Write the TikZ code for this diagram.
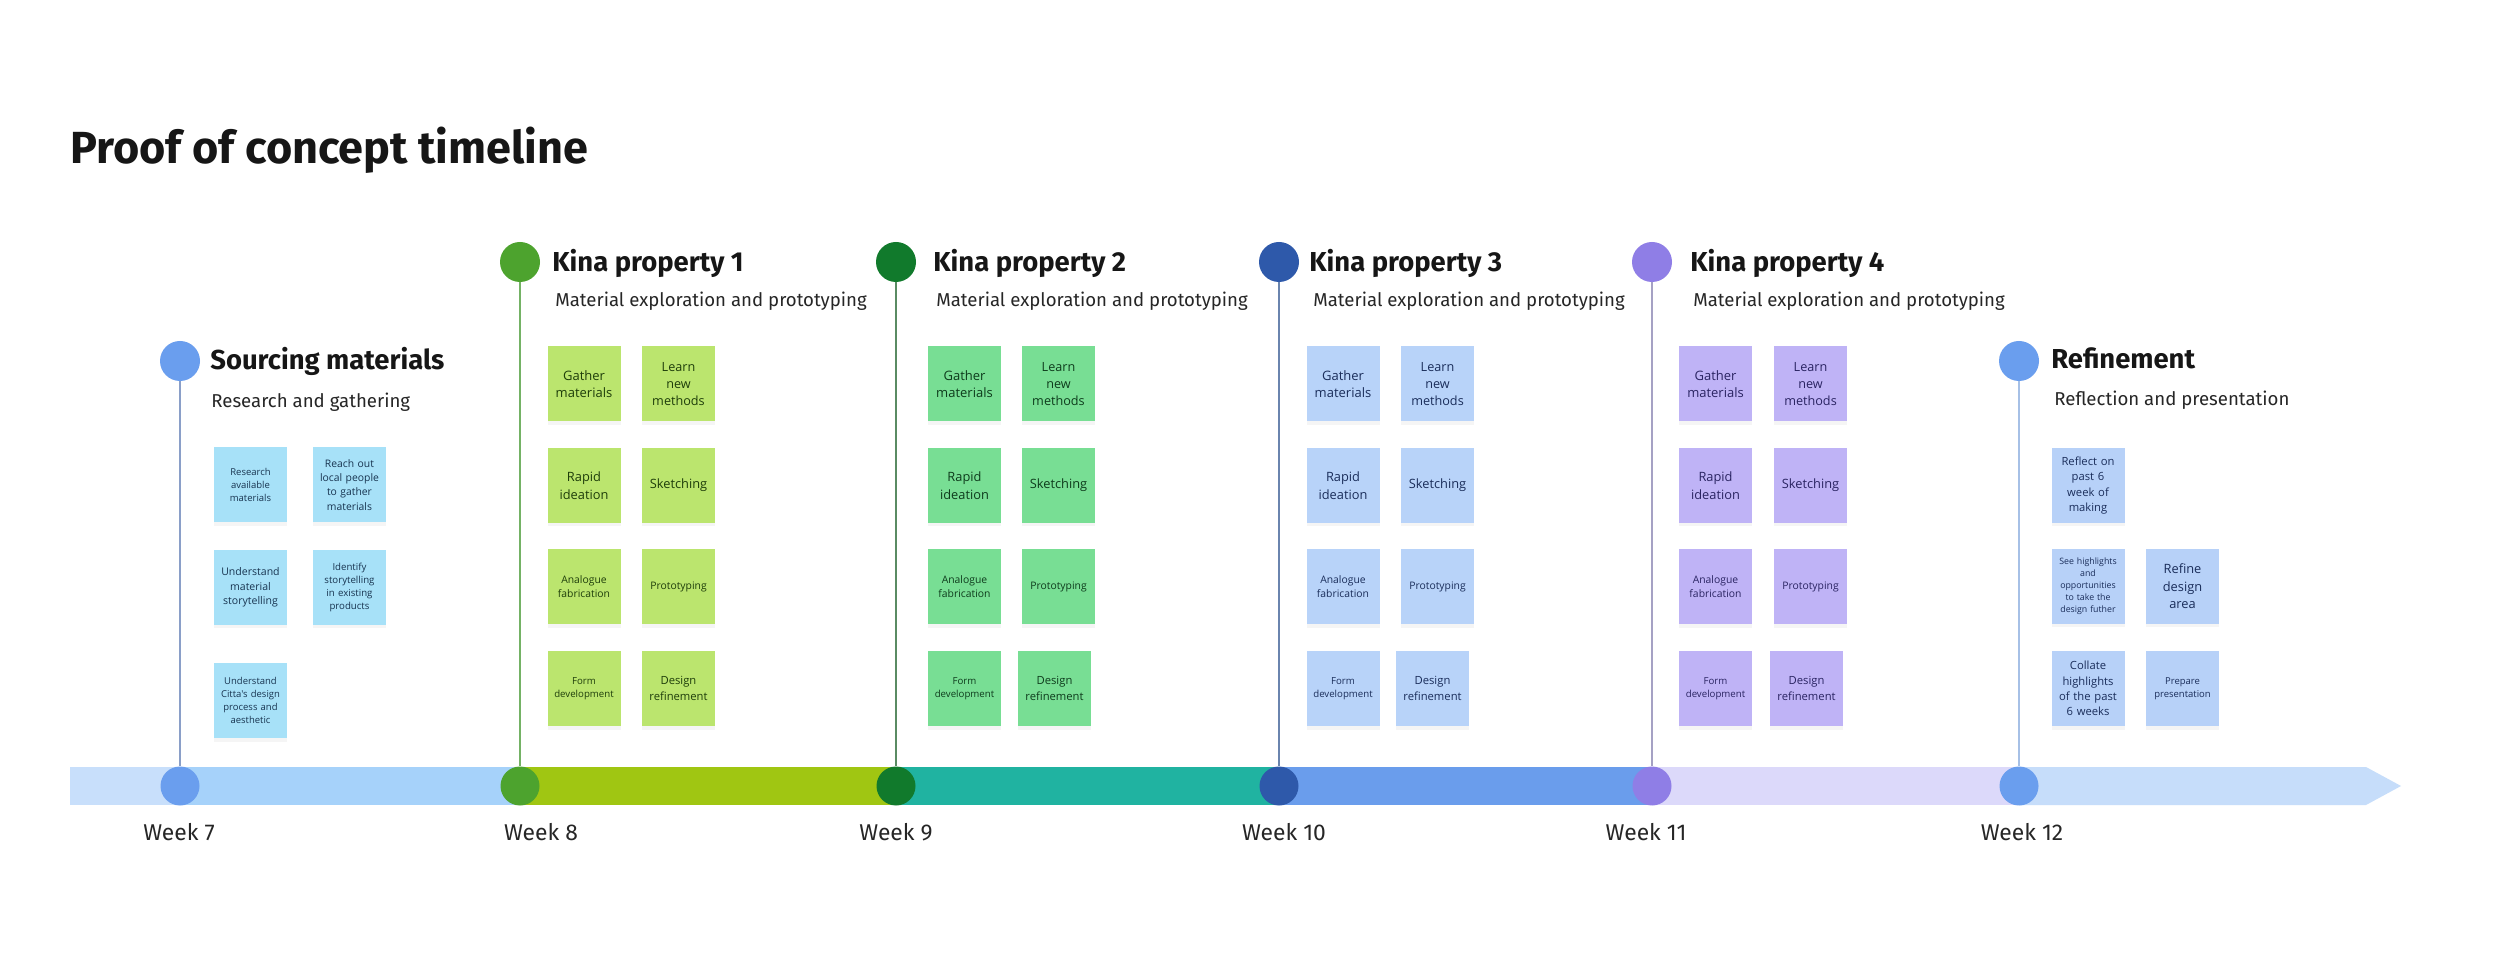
\documentclass[tikz,border=0pt]{standalone}
\usepackage{fontspec}
\setmainfont{Fira Sans}
\newfontfamily\notefont{Open Sans}
\usepackage{xcolor}
\usepackage{tikz}
\usetikzlibrary{shadows}

\definecolor{ink}{HTML}{161616}
\definecolor{inkb}{HTML}{262626}
% dots on the timeline and above it
\definecolor{srcC}{HTML}{6A9EEE}
\definecolor{kpaC}{HTML}{4DA32E}
\definecolor{kpbC}{HTML}{117A2C}
\definecolor{kpcC}{HTML}{2E59AA}
\definecolor{kpdC}{HTML}{8F7EE6}
\definecolor{refC}{HTML}{6A9EEE}
% stems
\definecolor{srcL}{HTML}{8A9FC8}
\definecolor{kpaL}{HTML}{74B265}
\definecolor{kpbL}{HTML}{5A8B63}
\definecolor{kpcL}{HTML}{6A84AE}
\definecolor{kpdL}{HTML}{A5A1C4}
\definecolor{refL}{HTML}{A6C0E6}
% band
\definecolor{bandA}{HTML}{C8DFFB}
\definecolor{bandB}{HTML}{A6D2FA}
\definecolor{bandC}{HTML}{A0C612}
\definecolor{bandD}{HTML}{20B3A1}
\definecolor{bandE}{HTML}{6A9DEC}
\definecolor{bandF}{HTML}{DCD9FA}
\definecolor{bandG}{HTML}{C6DDFA}
% sticky notes
\definecolor{srcN}{HTML}{A7E1F8}
\definecolor{srcT}{HTML}{183450}
\definecolor{kpaN}{HTML}{BBE56E}
\definecolor{kpaT}{HTML}{1E3D0A}
\definecolor{kpbN}{HTML}{78DE94}
\definecolor{kpbT}{HTML}{0E3B1C}
\definecolor{kpcN}{HTML}{B8D3F9}
\definecolor{kpcT}{HTML}{1A2D5A}
\definecolor{kpdN}{HTML}{BFB3F6}
\definecolor{kpdT}{HTML}{2A2462}
\definecolor{refN}{HTML}{B7D1F8}
\definecolor{refT}{HTML}{1A2D5A}

\newcommand{\notesize}[1]{\notefont\fontsize{#1}{\fpeval{1.36*#1}}\selectfont}

\begin{document}
\begin{tikzpicture}[x=0.2mm, y=-0.2mm,
  note/.style={minimum width=14.6mm, minimum height=15mm, text width=13.6mm,
    inner sep=0pt, align=center,
    drop shadow={shadow xshift=0mm, shadow yshift=-0.7mm, opacity=0.08}},
  hdot/.style={circle, inner sep=0pt, minimum size=8mm},
  wdot/.style={circle, inner sep=0pt, minimum size=7.8mm},
  headline/.style={anchor=base west, inner sep=0pt, text=ink, font=\fontsize{15.6}{19}\selectfont\bfseries},
  subline/.style={anchor=base west, inner sep=0pt, text=inkb, font=\fontsize{10.6}{13}\selectfont},
  week/.style={anchor=base, text=inkb, font=\fontsize{13}{15}\selectfont},
  stem/.style={line width=0.35mm}]

  \fill[white] (0,0) rectangle (2500,966);
  \useasboundingbox (0,0) rectangle (2500,966);

  \node[anchor=base west, inner sep=0pt, text=ink, font=\fontsize{25.6}{30}\selectfont\bfseries] (title) at (70,164) {Proof of concept timeline};

  % band
  \fill[bandA] (70,767) rectangle (180,805);
  \foreach \a/\b/\c in {180/520/bandB, 520/896/bandC, 896/1279/bandD, 1279/1652/bandE, 1652/2019/bandF} {
    \fill[\c] (\a,767) rectangle (\b,805);
  }
  \fill[bandG] (2019,767) -- (2366,767) -- (2401,786) -- (2366,805) -- (2019,805) -- cycle;

  \foreach \n/\x/\c in {7/180/srcC, 8/520/kpaC, 9/896/kpbC, 10/1279/kpcC, 11/1652/kpdC, 12/2019/refC} {
    \node[wdot, fill=\c] (w\n) at (\x,786) {};
  }
  \foreach \n/\x in {7/179, 8/541, 9/896, 10/1284, 11/1646, 12/2022} {
    \node[week] (l\n) at (\x,840) {Week \n};
  }

  % phases
  \node[hdot, fill=srcC] (hs) at (180,361) {};
  \node[hdot, fill=kpaC] (h1) at (520,262) {};
  \node[hdot, fill=kpbC] (h2) at (896,262) {};
  \node[hdot, fill=kpcC] (h3) at (1279,262) {};
  \node[hdot, fill=kpdC] (h4) at (1652,262) {};
  \node[hdot, fill=refC] (hr) at (2019,361) {};

  \draw[stem, srcL] (hs) -- (w7);
  \draw[stem, kpaL] (h1) -- (w8);
  \draw[stem, kpbL] (h2) -- (w9);
  \draw[stem, kpcL] (h3) -- (w10);
  \draw[stem, kpdL] (h4) -- (w11);
  \draw[stem, refL] (hr) -- (w12);

  \node[headline] (ts) at (210,370) {Sourcing materials};
  \node[subline] (ss) at (211,408) {Research and gathering};
  \foreach \g/\x/\xs in {1/552/555, 2/933/936, 3/1309/1313, 4/1690/1693} {
    \node[headline] (t\g) at (\x,272) {Kina property \g};
    \node[subline] (s\g) at (\xs,307) {Material exploration and prototyping};
  }
  \node[headline] (tr) at (2051,369) {Refinement};
  \node[subline] (sr) at (2054,406) {Reflection and presentation};

  % sticky notes
  \node[note, fill=srcN, text=srcT, font=\notesize{5.4}] (n1) at (250.5,485) {Research\\available\\materials};
  \node[note, fill=srcN, text=srcT, font=\notesize{5.9}] (n2) at (349.5,485) {Reach out\\local people\\to gather\\materials};
  \node[note, fill=srcN, text=srcT, font=\notesize{6}] (n3) at (250.5,587.5) {Understand\\material\\storytelling};
  \node[note, fill=srcN, text=srcT, font=\notesize{5.5}] (n4) at (349.5,587.5) {Identify\\storytelling\\in existing\\products};
  \node[note, fill=srcN, text=srcT, font=\notesize{5.4}] (n5) at (250.5,700.5) {Understand\\Citta's design\\process and\\aesthetic};

  \foreach \g/\a/\b/\d/\fc/\tc in {1/584/678.5/678.5/kpaN/kpaT, 2/964.5/1058.5/1054.5/kpbN/kpbT,
      3/1343/1437.5/1432.5/kpcN/kpcT, 4/1715.5/1810.5/1806.5/kpdN/kpdT} {
    \node[note, fill=\fc, text=\tc, font=\notesize{7.4}] (k\g-1) at (\a,384) {Gather\\materials};
    \node[note, fill=\fc, text=\tc, font=\notesize{7.2}] (k\g-2) at (\b,384) {Learn\\new\\methods};
    \node[note, fill=\fc, text=\tc, font=\notesize{7.3}] (k\g-3) at (\a,485.5) {Rapid\\ideation};
    \node[note, fill=\fc, text=\tc, font=\notesize{7.3}] (k\g-4) at (\b,485.5) {Sketching};
    \node[note, fill=\fc, text=\tc, font=\notesize{5.9}] (k\g-5) at (\a,587) {Analogue\\fabrication};
    \node[note, fill=\fc, text=\tc, font=\notesize{5.9}] (k\g-6) at (\b,587) {Prototyping};
    \node[note, fill=\fc, text=\tc, font=\notesize{5.5}] (k\g-7) at (\a,688.5) {Form\\development};
    \node[note, fill=\fc, text=\tc, font=\notesize{6.4}] (k\g-8) at (\d,688.5) {Design\\refinement};
  }

  \node[note, fill=refN, text=refT, font=\notesize{6.4}] (r1) at (2088,485.5) {Reflect on\\past 6\\week of\\making};
  \node[note, fill=refN, text=refT, font=\notesize{5}] (r2) at (2088,586.5) {See highlights\\and\\opportunities\\to take the\\design futher};
  \node[note, fill=refN, text=refT, font=\notesize{7.3}] (r3) at (2182.5,586.5) {Refine\\design\\area};
  \node[note, fill=refN, text=refT, font=\notesize{6.4}] (r4) at (2088,688.5) {Collate\\highlights\\of the past\\6 weeks};
  \node[note, fill=refN, text=refT, font=\notesize{5.4}] (r5) at (2182.5,688.5) {Prepare\\presentation};
\end{tikzpicture}
\end{document}
